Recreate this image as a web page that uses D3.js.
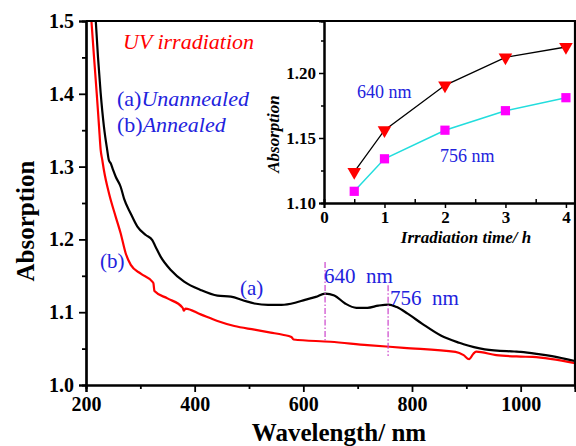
<!DOCTYPE html>
<html><head><meta charset="utf-8">
<script src="https://cdn.jsdelivr.net/npm/d3@7"></script>
<style>
body{margin:0;background:#fff;}
</style></head>
<body><svg id="c" width="576" height="446"></svg>
<script>
// ---- data ----
const wlA = [218,222,227,233,239,242,245.5,250,254.7,263.9,270,282,294.6,310,322,328,337.6,356,380.6,411,442,466.7,491,510,535,560,585,603,623,640,657,677,697.6,718,738,757,772,792,819,853,887,895,914,934,988,1000,1036,1069,1100];
const absA = [1.50,1.451,1.401,1.355,1.323,1.309,1.3045,1.295,1.286,1.272,1.256,1.236,1.2175,1.206,1.199,1.190,1.176,1.158,1.142,1.1305,1.1227,1.1213,1.1158,1.112,1.110,1.110,1.113,1.117,1.121,1.1256,1.123,1.112,1.106,1.106,1.109,1.1105,1.107,1.098,1.084,1.068,1.058,1.056,1.052,1.049,1.046,1.0455,1.042,1.038,1.033];
const wlB = [210,214.7,219.7,224,227,230,233,242.4,254.7,263.9,273,282.4,300.8,322,324,326,349.9,378,380,383,411,442,473,510,540,562,578,582,650,718,785,880,895,905,913,918,955,1000,1022,1100];
const absB = [1.50,1.451,1.401,1.355,1.323,1.309,1.295,1.263,1.231,1.208,1.181,1.165,1.153,1.142,1.140,1.129,1.119,1.106,1.102,1.105,1.097,1.088,1.081,1.076,1.072,1.069,1.066,1.0625,1.0594,1.0548,1.0511,1.0455,1.041,1.0355,1.043,1.0458,1.041,1.039,1.0385,1.030];
const markWl = [640, 756];
const markTop = [1.169, 1.137];
const markBottom = [1.059, 1.040];
const xTicks = [200,400,600,800,1000];
const yTicks = [1.0,1.1,1.2,1.3,1.4,1.5];
const times = [0.5,1,2,3,4];
const abs640 = [1.124,1.156,1.1905,1.212,1.220];
const abs756 = [1.109,1.134,1.156,1.171,1.181];
const inXTicks = [0,1,2,3,4];
const inYTicks = [1.10,1.15,1.20];

const FONT = "'Liberation Serif', 'Times New Roman', Times, serif";
const svg = d3.select("#c");
const blue = "#2222dd";

// ---- main chart ----
const x = d3.scaleLinear().domain([200,1100]).range([86,575]);
const y = d3.scaleLinear().domain([1.0,1.5]).range([385,21]);

const line = d3.line().x(d=>x(d[0])).y(d=>y(d[1])).curve(d3.curveMonotoneX);
svg.append("path").datum(wlB.map((w,i)=>[w,absB[i]]))
  .attr("d",line).attr("fill","none").attr("stroke","#ff0000").attr("stroke-width",2.2).attr("stroke-linejoin","round");
svg.append("path").datum(wlA.map((w,i)=>[w,absA[i]]))
  .attr("d",line).attr("fill","none").attr("stroke","#000").attr("stroke-width",2.2).attr("stroke-linejoin","round");

markWl.forEach((w,i)=>{
  svg.append("line").attr("x1",x(w)).attr("x2",x(w)).attr("y1",y(markTop[i])).attr("y2",y(markBottom[i]))
    .attr("stroke","#cc44cc").attr("stroke-width",1.2).attr("stroke-dasharray","6,2,1.5,2");
});

// axes
const gx = svg.append("g").attr("transform","translate(0,385)")
  .call(d3.axisBottom(x).tickValues(xTicks).tickSize(7).tickPadding(5).tickFormat(d3.format("d")));
const gxm = svg.append("g").attr("transform","translate(0,385)")
  .call(d3.axisBottom(x).tickValues([300,500,700,900]).tickSize(4).tickFormat(""));
const gy = svg.append("g").attr("transform","translate(86,0)")
  .call(d3.axisLeft(y).tickValues(yTicks).tickSize(7).tickPadding(5).tickFormat(d3.format(".1f")));
const gym = svg.append("g").attr("transform","translate(86,0)")
  .call(d3.axisLeft(y).tickValues([1.05,1.15,1.25,1.35,1.45]).tickSize(4).tickFormat(""));
[gx,gxm,gy,gym].forEach(g=>{
  g.select(".domain").attr("stroke-width",2.2);
  g.selectAll(".tick line").attr("stroke-width",1.8);
});
[gx,gy].forEach(g=>g.attr("font-family",FONT).attr("font-size",20).attr("font-weight","bold")
  .selectAll("text").attr("fill","#000"));
// frame top & right
svg.append("line").attr("x1",86).attr("x2",576).attr("y1",y(1.5)).attr("y2",y(1.5)).attr("stroke","#000").attr("stroke-width",2.2);
svg.append("line").attr("x1",575).attr("x2",575).attr("y1",y(1.5)).attr("y2",y(1.0)).attr("stroke","#000").attr("stroke-width",2.2);

function txt(xp, yp, s, size, opts={}) {
  const t = svg.append("text").attr("x",xp).attr("y",yp).attr("font-family",FONT).attr("font-size",size)
    .attr("fill",opts.fill||"#000").attr("text-anchor",opts.anchor||"start");
  if (opts.bold) t.attr("font-weight","bold");
  if (opts.italic) t.attr("font-style","italic");
  if (opts.rotate) t.attr("transform",`rotate(-90,${xp},${yp})`);
  t.attr("xml:space","preserve").style("white-space","pre");
  if (s!==null) t.text(s);
  return t;
}
txt(339,441,"Wavelength/ nm",25,{bold:true,anchor:"middle"});
txt(34,221,"Absorption",25,{bold:true,anchor:"middle",rotate:true});

// annotations
txt(123,49,"UV irradiation",22,{italic:true,fill:"#ff0000"});
const ta = txt(117,106,null,22,{fill:blue});
ta.append("tspan").text("(a)"); ta.append("tspan").attr("font-style","italic").text("Unannealed");
const tb = txt(117,132,null,22,{fill:blue});
tb.append("tspan").text("(b)"); tb.append("tspan").attr("font-style","italic").text("Annealed");
txt(100,268,"(b)",21,{fill:blue});
txt(240,295,"(a)",21,{fill:blue});
txt(324,283,"640  nm",21,{fill:blue});
txt(390,305,"756  nm",21,{fill:blue});

// ---- inset ----
const ix = d3.scaleLinear().domain([0,4.15]).range([324,575]);
const iy = d3.scaleLinear().domain([1.10,1.24]).range([203,21]);
const il = d3.line().x(d=>ix(d[0])).y(d=>iy(d[1]));
svg.append("path").datum(times.map((t,i)=>[t,abs756[i]])).attr("d",il).attr("fill","none").attr("stroke","#22dddd").attr("stroke-width",1.5);
svg.append("path").datum(times.map((t,i)=>[t,abs640[i]])).attr("d",il).attr("fill","none").attr("stroke","#000").attr("stroke-width",1.3);
svg.selectAll(".sq").data(times.map((t,i)=>[t,abs756[i]])).enter().append("path")
  .attr("transform",d=>`translate(${ix(d[0])},${iy(d[1])})`)
  .attr("d",d3.symbol().type(d3.symbolSquare).size(85)).attr("fill","#ff00ff");
svg.selectAll(".tri").data(times.map((t,i)=>[t,abs640[i]])).enter().append("path")
  .attr("transform",d=>`translate(${ix(d[0])},${iy(d[1])}) rotate(180)`)
  .attr("d",d3.symbol().type(d3.symbolTriangle).size(80)).attr("fill","#ff0000");

const igx = svg.append("g").attr("transform","translate(0,203)")
  .call(d3.axisBottom(ix).tickValues(inXTicks).tickSize(5).tickPadding(3).tickFormat(d3.format("d")));
const igxm = svg.append("g").attr("transform","translate(0,203)")
  .call(d3.axisBottom(ix).tickValues([0.5,1.5,2.5,3.5]).tickSize(-4).tickFormat(""));
const igy = svg.append("g").attr("transform","translate(324,0)")
  .call(d3.axisLeft(iy).tickValues(inYTicks).tickSize(5).tickPadding(3).tickFormat(d3.format(".2f")));
const igym = svg.append("g").attr("transform","translate(324,0)")
  .call(d3.axisLeft(iy).tickValues([1.125,1.175,1.225]).tickSize(3).tickFormat(""));
[igx,igxm,igy,igym].forEach(g=>{
  g.select(".domain").attr("stroke-width",2);
  g.selectAll(".tick line").attr("stroke-width",1.5);
});
[igx,igy].forEach(g=>g.attr("font-family",FONT).attr("font-size",17).attr("font-weight","bold")
  .selectAll("text").attr("fill","#000"));

txt(466,243,"Irradiation time/ h",17,{bold:true,italic:true,anchor:"middle"});
txt(279,134,"Absorption",17,{bold:true,italic:true,anchor:"middle",rotate:true});
txt(357,98,"640 nm",18,{fill:blue});
txt(440,162,"756 nm",18,{fill:blue});
</script></body></html>
